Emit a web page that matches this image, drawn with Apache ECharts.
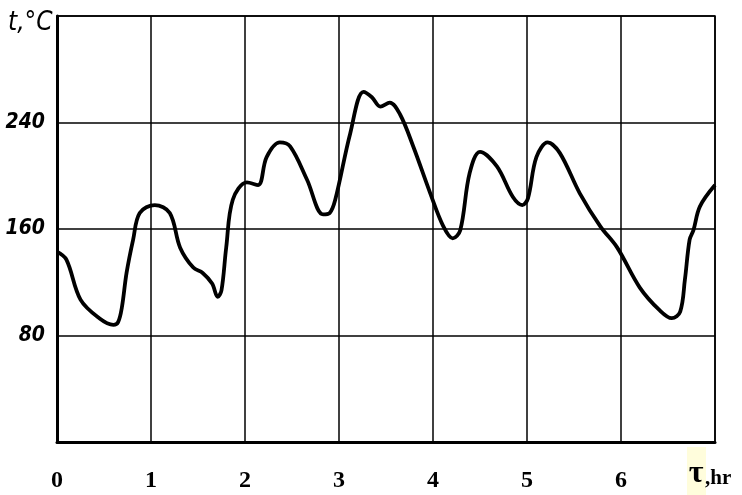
<!DOCTYPE html>
<html>
<head>
<meta charset="utf-8">
<script src="https://cdn.jsdelivr.net/npm/echarts@6/dist/echarts.min.js"></script>
<style>html,body{margin:0;padding:0;background:#fff}#c{width:742px;height:495px}</style>
</head>
<body>
<div id="c"></div>
<script>
var timeHr = [0, 0.1, 0.25, 0.45, 0.6, 0.65, 0.69, 0.74, 0.81, 0.88, 1.04, 1.2, 1.31, 1.45, 1.55, 1.65, 1.71, 1.75, 1.8, 1.87, 2.02, 2.14, 2.23, 2.37, 2.48, 2.66, 2.83, 2.9, 2.96, 3.12, 3.26, 3.35, 3.44, 3.54, 3.65, 3.79, 3.97, 4.11, 4.21, 4.29, 4.39, 4.5, 4.68, 4.85, 4.95, 5.01, 5.1, 5.22, 5.35, 5.56, 5.78, 5.96, 6.2, 6.41, 6.54, 6.63, 6.68, 6.73, 6.77, 6.84, 7.0];
var tempC = [143, 137, 107, 93, 88, 90, 101, 127, 152, 172, 178, 172, 146, 131, 127, 119, 109, 114, 146, 182, 195, 193, 214, 225, 222, 197, 171, 172, 182, 232, 263, 259, 252, 255, 246, 222, 187, 162, 153, 159, 202, 218, 207, 184, 178, 183, 214, 225, 217, 187, 162, 146, 116, 99, 93, 98, 122, 152, 159, 177, 193];
var xTicks = ['0', '1', '2', '3', '4', '5', '6'];
var yTicks = ['80', '160', '240'];
var xUnitSymbol = 'τ';
var xUnitText = ',hr';
var yTitle = 't,°C';

var narrow = '"DejaVu Sans Condensed", "Liberation Sans", sans-serif';

var chart = echarts.init(document.getElementById('c'), null, {renderer: 'canvas'});
chart.setOption({
  animation: false,
  backgroundColor: '#fff',
  grid: {left: 57, right: 27, top: 16, bottom: 53, containLabel: false, outerBoundsMode: 'none',
         show: true, borderColor: '#000', borderWidth: 1.5, backgroundColor: 'transparent'},
  xAxis: {
    type: 'value', min: 0, max: 7, interval: 1,
    axisLine: {show: true, lineStyle: {color: '#000', width: 3}},
    axisTick: {show: false},
    splitLine: {show: true, lineStyle: {color: '#000', width: 1.5}},
    axisLabel: {
      margin: 27,
      color: '#000',
      fontFamily: 'Liberation Serif',
      fontWeight: 'bold',
      fontSize: 24,
      formatter: function (v) {
        var i = Math.round(v);
        return i < xTicks.length ? xTicks[i] : '';
      }
    }
  },
  yAxis: {
    type: 'value', min: 0, max: 320, interval: 80,
    axisLine: {show: true, lineStyle: {color: '#000', width: 3}},
    axisTick: {show: false},
    splitLine: {show: true, lineStyle: {color: '#000', width: 1.5}},
    axisLabel: {
      margin: 12,
      color: '#000',
      fontFamily: narrow,
      fontStyle: 'italic',
      fontWeight: 'bold',
      fontSize: 21,
      formatter: function (v) {
        var s = String(v);
        return yTicks.indexOf(s) >= 0 ? s : '';
      }
    }
  },
  graphic: [
    {type: 'text', left: 8, top: 10,
     style: {text: yTitle, fontFamily: narrow, fontStyle: 'italic', fontSize: 26, fill: '#000'}},
    {type: 'rect', shape: {x: 687, y: 447, width: 19, height: 48}, style: {fill: '#FFFDDC'}, z: 0},
    {type: 'text', x: 696, y: 490,
     style: {text: xUnitSymbol, fontFamily: 'Liberation Serif', fontWeight: 'bold', fontSize: 32, fill: '#000', align: 'center', verticalAlign: 'bottom'}},
    {type: 'text', x: 705, y: 489,
     style: {text: xUnitText, fontFamily: 'Liberation Serif', fontWeight: 'bold', fontSize: 21, fill: '#000', align: 'left', verticalAlign: 'bottom'}}
  ],
  series: [{
    type: 'line',
    data: timeHr.map(function (t, i) { return [t, tempC[i]]; }),
    smooth: 0.35,
    showSymbol: false,
    lineStyle: {color: '#000', width: 3.8},
    clip: false
  }]
});
</script>
</body>
</html>
